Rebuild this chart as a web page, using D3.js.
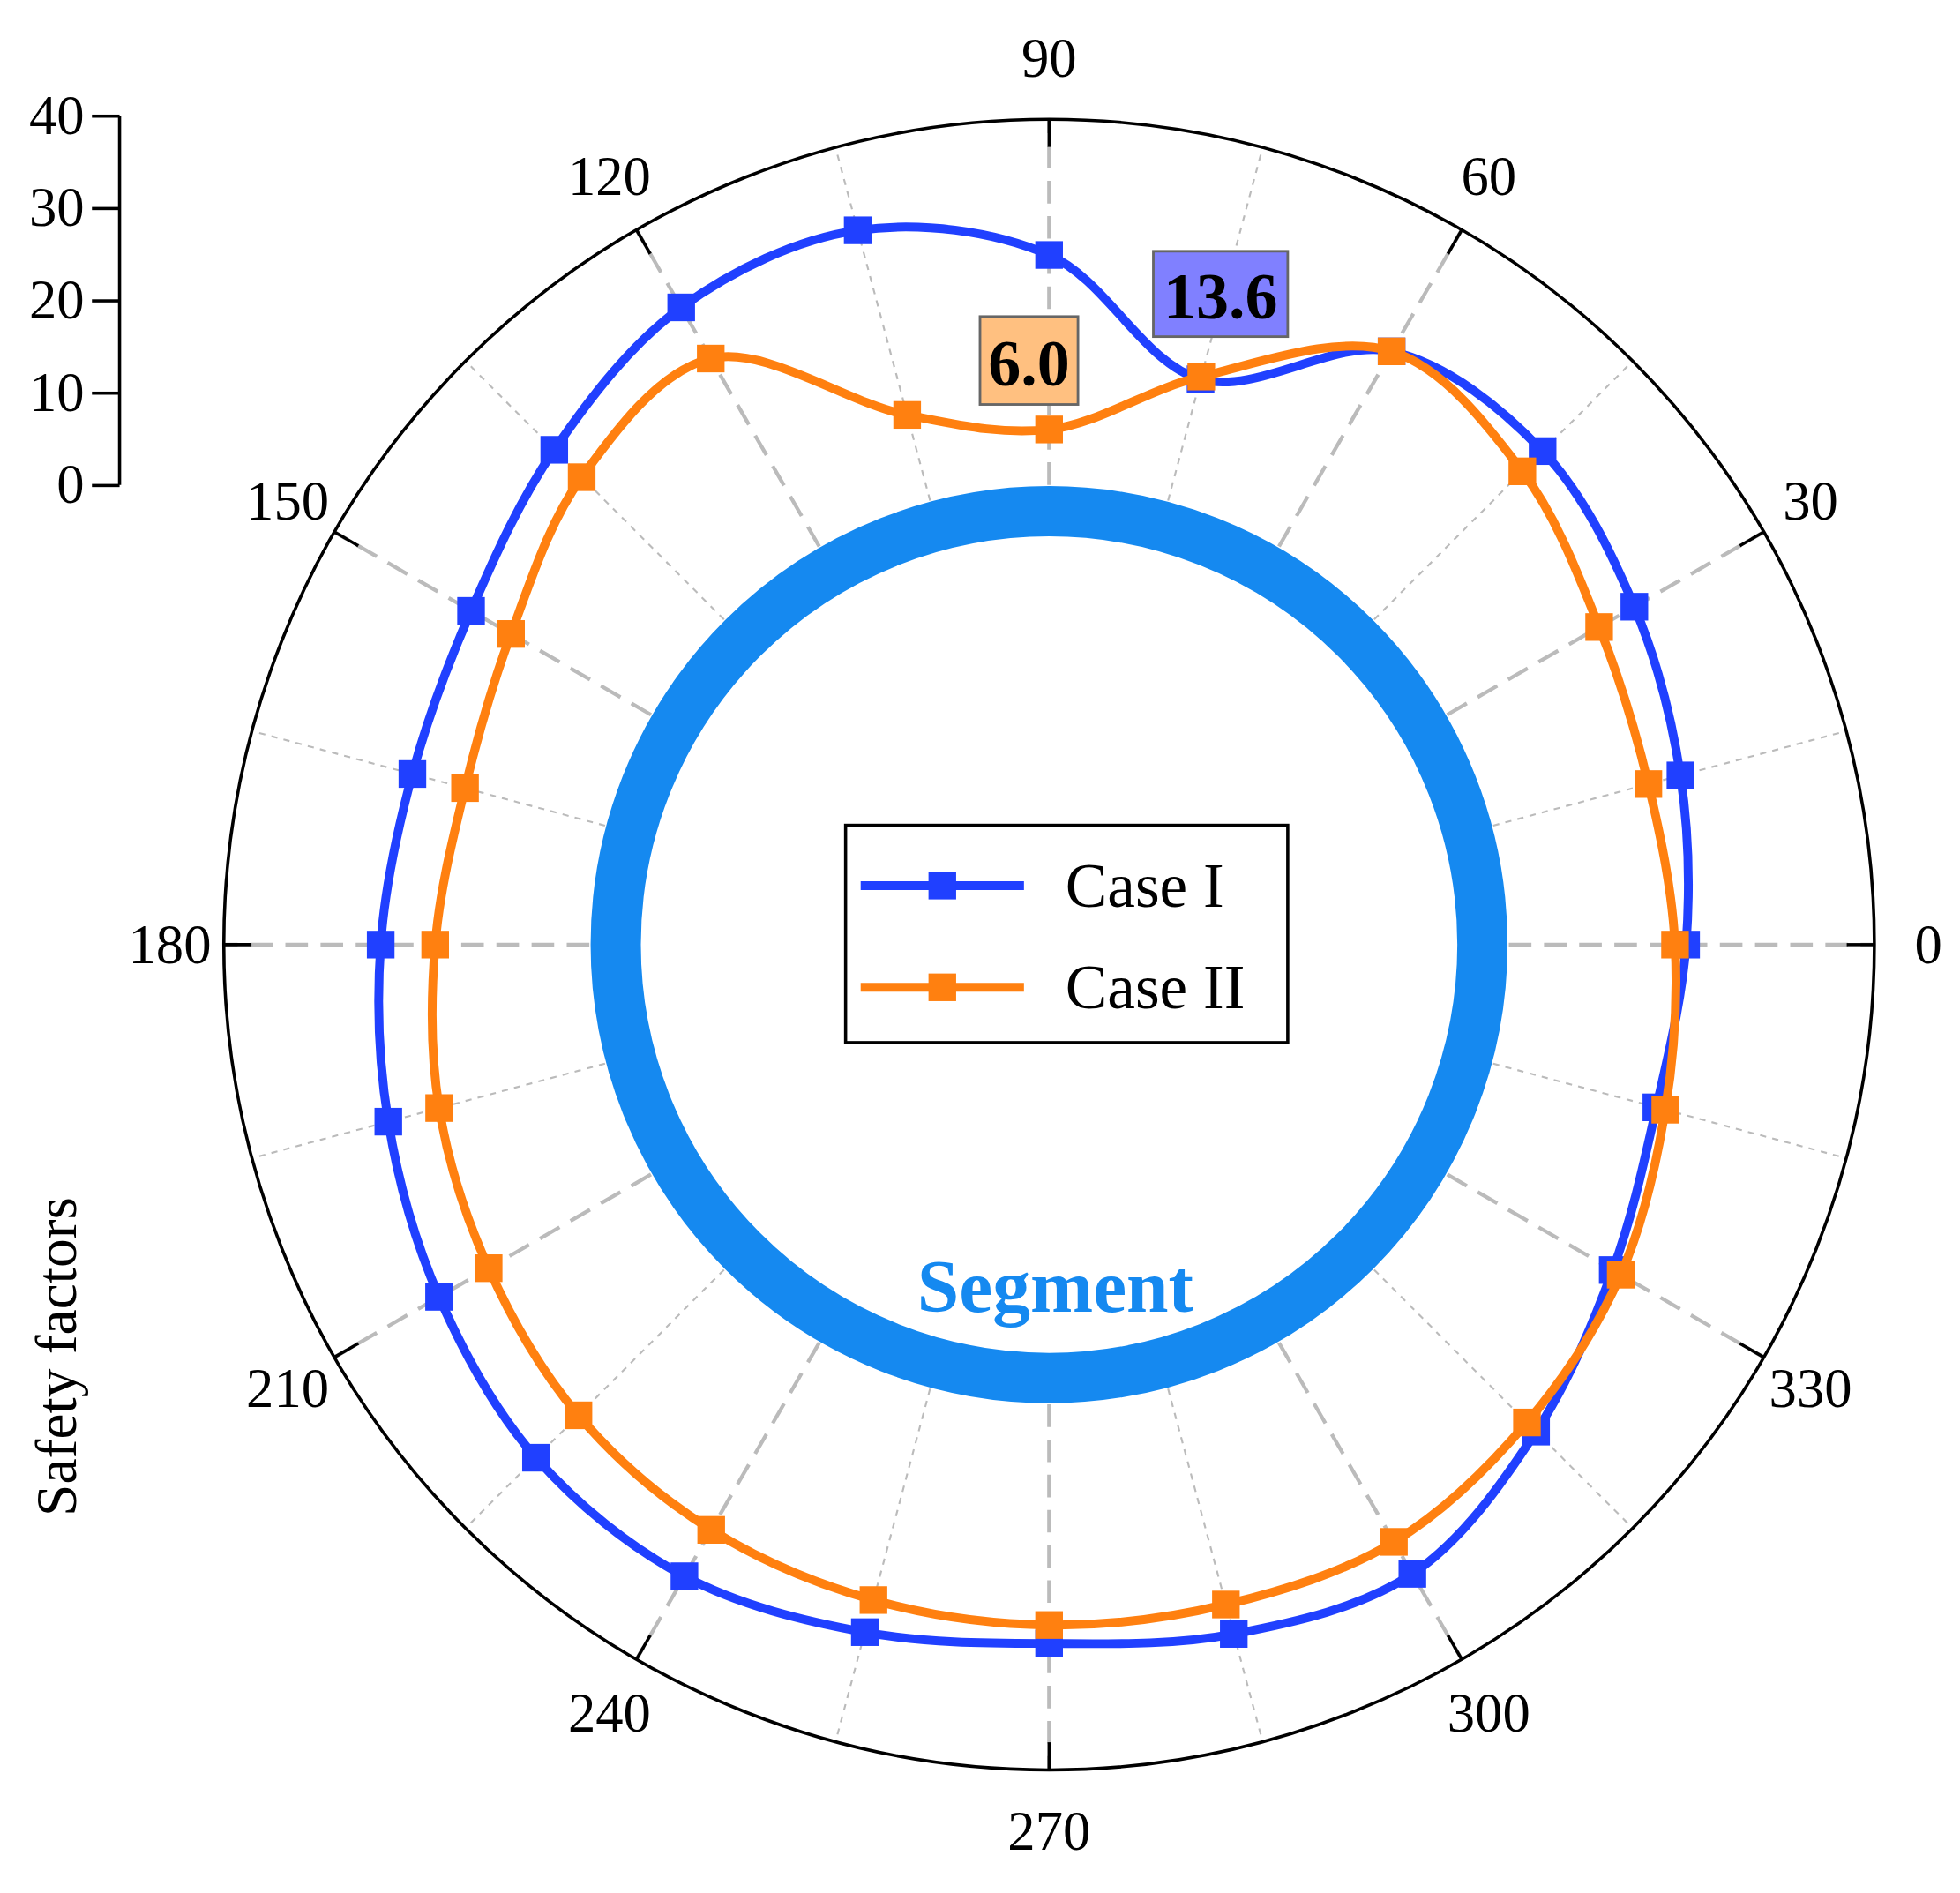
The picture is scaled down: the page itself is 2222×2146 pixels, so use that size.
<!DOCTYPE html>
<html><head><meta charset="utf-8">
<script src="https://cdn.jsdelivr.net/npm/d3@7"></script>
<style>body{margin:0;background:#fff}text{font-family:"Liberation Serif",serif}</style>
</head><body>
<svg id="chart" width="2222" height="2146" viewBox="0 0 1560 1507"></svg>
<script>
// angles in degrees, counter-clockwise from east
const angles = d3.range(0, 360, 15);
const caseI = [19.2, 21.0, 23.4, 25.8, 24.4, 13.6, 24.9, 30.3, 29.9, 26.0, 22.5, 21.6,
               22.6, 24.3, 26.5, 28.8, 29.2, 27.3, 25.9, 27.5, 28.9, 24.8, 20.7, 18.3];
const caseII = [18.0, 17.4, 19.0, 22.7, 24.4, 13.9, 6.0, 9.6, 23.5, 21.8, 17.5, 15.7,
                16.7, 18.6, 20.3, 22.3, 23.4, 23.7, 23.9, 24.2, 24.9, 23.4, 21.7, 19.3];
const radialTicks = [0, 10, 20, 30, 40];
const angleTicks = d3.range(0, 360, 30);
const series = [
  {name: "Case I", values: caseI, color: "#2040ff"},
  {name: "Case II", values: caseII, color: "#ff8010"}
];

const svg = d3.select("#chart");
const cx = 835, cy = 752;
const r = d3.scaleLinear().domain([0, 40]).range([366, 660]);
const R = 657;
const rad = a => (90 - a) * Math.PI / 180; // d3 radial angle
const g = svg.append("g").attr("transform", `translate(${cx},${cy})`);

// grid lines
angles.forEach(a => {
  const major = a % 30 === 0;
  const t = rad(a);
  g.append("line")
    .attr("x1", r(0) * Math.sin(t)).attr("y1", -r(0) * Math.cos(t))
    .attr("x2", R * Math.sin(t)).attr("y2", -R * Math.cos(t))
    .attr("stroke", major ? "#bbb" : "#bbb")
    .attr("stroke-width", major ? 3 : 1.5)
    .attr("stroke-dasharray", major ? "18,10" : "5,5");
});
// outer circle + ticks
g.append("circle").attr("r", R).attr("fill", "none").attr("stroke", "#000").attr("stroke-width", 2.5);
angleTicks.forEach(a => {
  const t = rad(a);
  g.append("line")
    .attr("x1", (R - 22) * Math.sin(t)).attr("y1", -(R - 22) * Math.cos(t))
    .attr("x2", R * Math.sin(t)).attr("y2", -R * Math.cos(t))
    .attr("stroke", "#000").attr("stroke-width", 2.5);
  g.append("text")
    .attr("x", 700 * Math.sin(t)).attr("y", -706 * Math.cos(t))
    .attr("text-anchor", "middle").attr("dominant-baseline", "central")
    .attr("font-size", 44).text(a);
});

// segment ring
g.append("circle").attr("r", 345).attr("fill", "none").attr("stroke", "#1589f0").attr("stroke-width", 40);
g.append("text").attr("x", 5).attr("y", 292).attr("text-anchor", "middle")
  .attr("font-size", 60).attr("font-weight", "bold").attr("fill", "#1589f0").text("Segment");

// series
const line = d3.lineRadial().curve(d3.curveCatmullRomClosed.alpha(0.5))
  .angle((d, i) => rad(angles[i])).radius(d => r(d));
series.forEach(s => {
  g.append("path").datum(s.values).attr("d", line)
    .attr("fill", "none").attr("stroke", s.color).attr("stroke-width", 7);
  g.selectAll(null).data(s.values).enter().append("rect")
    .attr("x", (d, i) => r(d) * Math.sin(rad(angles[i])) - 11)
    .attr("y", (d, i) => -r(d) * Math.cos(rad(angles[i])) - 11)
    .attr("width", 22).attr("height", 22).attr("fill", s.color);
});

// annotations
const ann = [
  {text: "13.6", x: 918, y: 200, w: 107, h: 68, fill: "#8080ff"},
  {text: "6.0", x: 780, y: 252, w: 78, h: 70, fill: "#ffc080"}
];
ann.forEach(a => {
  svg.append("rect").attr("x", a.x).attr("y", a.y).attr("width", a.w).attr("height", a.h)
    .attr("fill", a.fill).attr("stroke", "#666").attr("stroke-width", 2);
  svg.append("text").attr("x", a.x + a.w / 2).attr("y", a.y + a.h / 2 + 2)
    .attr("text-anchor", "middle").attr("dominant-baseline", "central")
    .attr("font-size", 52).attr("font-weight", "bold").text(a.text);
});

// legend
svg.append("rect").attr("x", 673).attr("y", 657).attr("width", 352).attr("height", 173)
  .attr("fill", "#fff").attr("stroke", "#000").attr("stroke-width", 2.5);
series.forEach((s, i) => {
  const y = 705 + i * 81;
  svg.append("line").attr("x1", 685).attr("x2", 815).attr("y1", y).attr("y2", y)
    .attr("stroke", s.color).attr("stroke-width", 7);
  svg.append("rect").attr("x", 739).attr("y", y - 11).attr("width", 22).attr("height", 22).attr("fill", s.color);
  svg.append("text").attr("x", 848).attr("y", y).attr("dominant-baseline", "central")
    .attr("font-size", 50).text(s.name);
});

// radial axis
const ay = d3.scaleLinear().domain([0, 40]).range([386, 92]);
const axis = svg.append("g").attr("transform", "translate(95,0)")
  .call(d3.axisLeft(ay).tickValues(radialTicks).tickSize(22).tickPadding(6));
axis.select(".domain").attr("stroke-width", 2.5).attr("d", "M0,386V92");
axis.selectAll(".tick line").attr("stroke-width", 2.5);
axis.selectAll("text").attr("font-size", 44).attr("font-family", "Liberation Serif");
svg.append("text").attr("transform", "translate(45,1080) rotate(-90)")
  .attr("text-anchor", "middle").attr("dominant-baseline", "central")
  .attr("font-size", 46).text("Safety factors");
</script>
</body></html>
